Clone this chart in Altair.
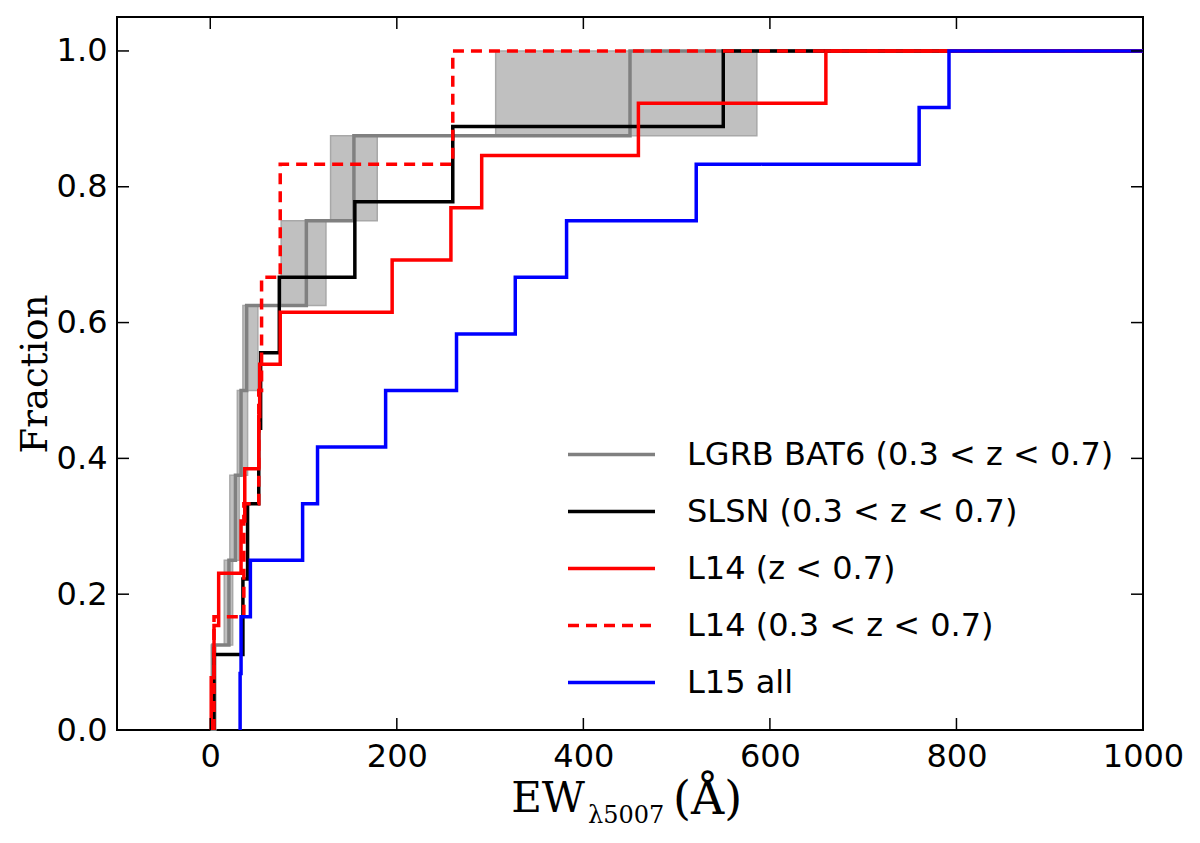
import altair as alt
import pandas as pd

# EW values (Angstrom) where each cumulative distribution steps up
lgrb_ew = [3, 20, 27, 33, 39, 103, 154, 450]
lgrb_lo = [1, 15, 21, 29, 35, 76, 129, 306]
lgrb_hi = [6, 24, 31, 40, 51, 124, 179, 586]
slsn_ew = [4, 35, 40, 52, 54, 74, 155, 260, 550]
l14_ew = [1, 4, 9, 33, 37, 52, 53, 75, 195, 258, 291, 459, 660]
l14_mid_ew = [4, 36, 52, 55, 75, 260]
l15_ew = [32, 33, 43, 99, 115, 188, 264, 327, 382, 521, 760, 792]

names = ['LGRB BAT6 (0.3 < z < 0.7)', 'SLSN (0.3 < z < 0.7)', 'L14 (z < 0.7)',
         'L14 (0.3 < z < 0.7)', 'L15 all']
colors = ['#808080', 'black', 'red', 'red', 'blue']
dashes = [[1, 0], [1, 0], [1, 0], [11, 7], [1, 0]]
x_ticks = [0, 200, 400, 600, 800, 1000]
y_ticks = [0.0, 0.2, 0.4, 0.6, 0.8, 1.0]

W, H = 1026, 713

rows = []
for name, ew in zip(names, [lgrb_ew, slsn_ew, l14_ew, l14_mid_ew, l15_ew]):
    n = len(ew)
    pts = [(ew[0], 0.0)] + [(v, (k + 1) / n) for k, v in enumerate(ew)] + [(1100, 1.0)]
    for i, (x, y) in enumerate(pts):
        rows.append({'sample': name, 'ew': x, 'frac': y, 'i': i})
cdf = pd.DataFrame(rows)

band = pd.DataFrame({'lo': lgrb_lo, 'hi': lgrb_hi,
                     'f0': [k / 8 for k in range(8)],
                     'f1': [(k + 1) / 8 for k in range(8)]})

xs = alt.Scale(domain=[-100, 1000], nice=False, zero=False)
ys = alt.Scale(domain=[0, 1.05], nice=False, zero=False)

x_axis = alt.Axis(values=x_ticks, format='d', title='', ticks=False, domain=False,
                  grid=False, labelFont='DejaVu Sans', labelFontSize=32,
                  labelColor='black', labelPadding=11, labelFlush=False,
                  labelOverlap=False)
y_axis = alt.Axis(values=y_ticks, format='.1f', title='Fraction', ticks=False,
                  domain=False, grid=False, labelFont='DejaVu Sans',
                  labelFontSize=32, labelColor='black', labelPadding=10,
                  labelFlush=False, labelOverlap=False,
                  titleFont='DejaVu Serif', titleFontSize=37,
                  titleFontWeight='normal', titleColor='black',
                  titleX=-71, titleBaseline='alphabetic')

bands = alt.Chart(band).mark_rect(fill='#c0c0c0', stroke='#a8a8a8', strokeWidth=1.5).encode(
    x=alt.X('lo:Q', scale=xs, axis=x_axis),
    x2='hi:Q',
    y=alt.Y('f0:Q', scale=ys, axis=y_axis),
    y2='f1:Q',
)

legend = alt.Legend(title=None, orient='none', legendX=478, legendY=421,
                    symbolType='M-3,0L3,0', symbolSize=841, symbolStrokeWidth=3.5,
                    labelFont='DejaVu Sans', labelFontSize=32, labelColor='black',
                    labelOffset=59, rowPadding=24, padding=0, labelLimit=1000)

lines = alt.Chart(cdf).mark_line(interpolate='step-after', strokeWidth=3.5, clip=True).encode(
    x=alt.X('ew:Q', scale=xs, axis=x_axis),
    y=alt.Y('frac:Q', scale=ys, axis=y_axis),
    color=alt.Color('sample:N', scale=alt.Scale(domain=names, range=colors), legend=legend),
    strokeDash=alt.StrokeDash('sample:N', scale=alt.Scale(domain=names, range=dashes), legend=legend),
    order='i:Q',
)

xt = pd.DataFrame({'t': x_ticks})
yt = pd.DataFrame({'t': y_ticks})
tick_b = alt.Chart(xt).mark_rule(color='black', strokeWidth=1.5).encode(
    x=alt.X('t:Q', scale=xs, axis=x_axis), y=alt.value(H), y2=alt.value(H - 12))
tick_t = alt.Chart(xt).mark_rule(color='black', strokeWidth=1.5).encode(
    x=alt.X('t:Q', scale=xs, axis=x_axis), y=alt.value(0), y2=alt.value(12))
tick_l = alt.Chart(yt).mark_rule(color='black', strokeWidth=1.5).encode(
    y=alt.Y('t:Q', scale=ys, axis=y_axis), x=alt.value(0), x2=alt.value(12))
tick_r = alt.Chart(yt).mark_rule(color='black', strokeWidth=1.5).encode(
    y=alt.Y('t:Q', scale=ys, axis=y_axis), x=alt.value(W - 12), x2=alt.value(W))

# x-axis title with a subscript, built from three text pieces
ew_t = alt.Chart(pd.DataFrame({'s': ['EW']})).mark_text(
    font='DejaVu Serif', fontSize=42, align='right', baseline='alphabetic', color='black'
).encode(text='s:N', x=alt.value(468), y=alt.value(795))
sub_t = alt.Chart(pd.DataFrame({'s': ['λ5007']})).mark_text(
    font='DejaVu Serif', fontSize=24, align='left', baseline='alphabetic', color='black'
).encode(text='s:N', x=alt.value(471), y=alt.value(806))
ang_t = alt.Chart(pd.DataFrame({'s': ['(Å)']})).mark_text(
    font='DejaVu Serif', fontSize=46, align='left', baseline='alphabetic', color='black'
).encode(text='s:N', x=alt.value(556), y=alt.value(797))

chart = alt.layer(bands, lines, tick_b, tick_t, tick_l, tick_r, ew_t, sub_t, ang_t).properties(
    width=W, height=H, autosize='none',
    padding={'left': 109, 'top': 9, 'right': 40, 'bottom': 103},
    background='white',
).configure_view(stroke='black', strokeWidth=2)

chart.save("out.html", embed_options={"renderer": "svg", "actions": False})
